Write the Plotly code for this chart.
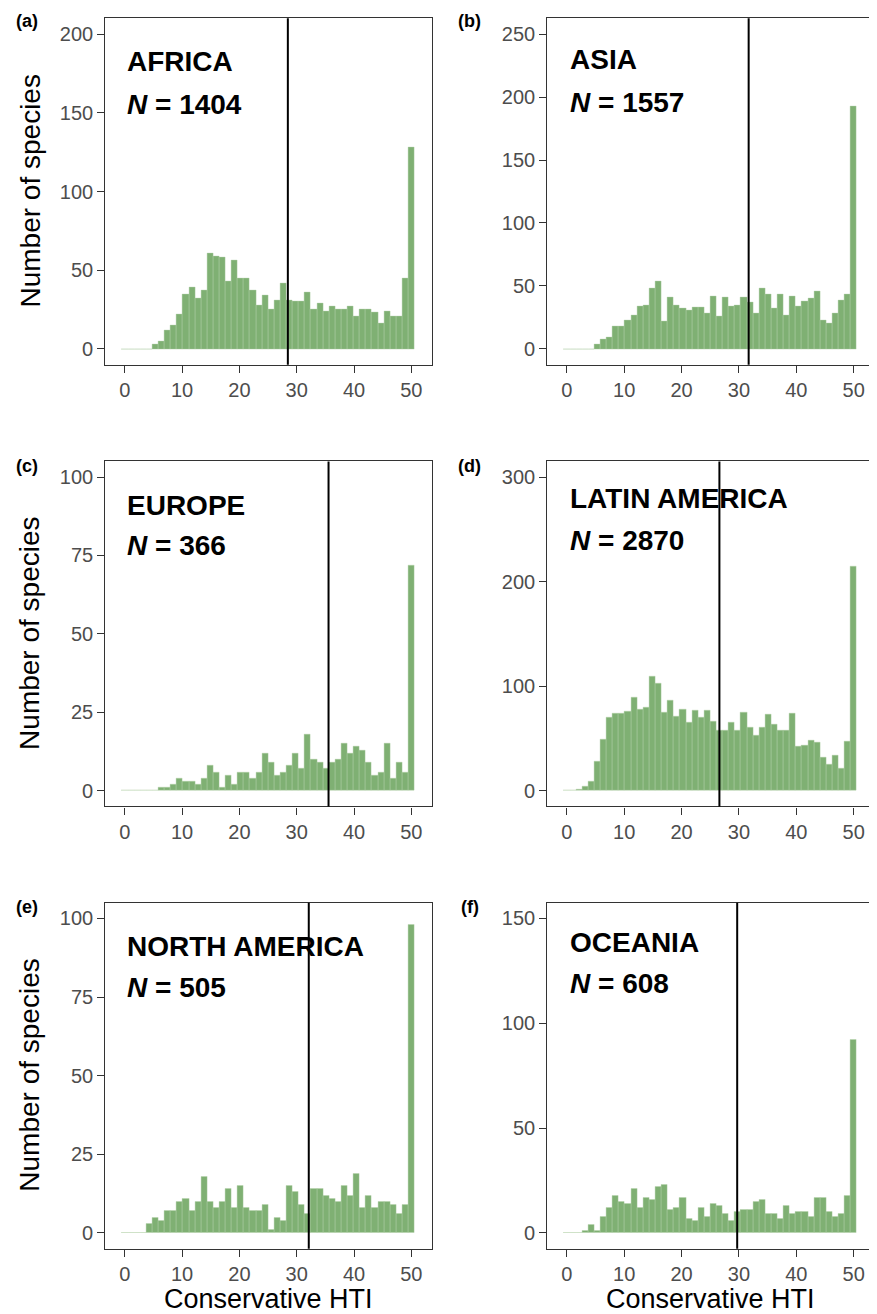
import numpy as np
import plotly.graph_objects as go

# page body has an 8px default margin; lay the figure out in window pixels and shift
PAGE_MARGIN = 8
WIN_W, WIN_H = 877, 1314
W, H = WIN_W - PAGE_MARGIN, WIN_H - PAGE_MARGIN
N_BINS = 48
BIN_MAX = 50.0

regions = ["AFRICA", "ASIA", "EUROPE", "LATIN AMERICA", "NORTH AMERICA", "OCEANIA"]
panel_letters = ["(a)", "(b)", "(c)", "(d)", "(e)", "(f)"]
n_species = [1404, 1557, 366, 2870, 505, 608]
thresholds = [28.45, 31.7, 35.55, 26.6, 32.1, 29.7]

africa = [0, 0, 0, 0, 0, 3, 5, 12, 15, 22, 35, 39, 32, 37, 61, 59, 58, 43, 56, 45, 45, 37, 28, 34,
          25, 31, 42, 31, 30, 30, 36, 25, 29, 24, 27, 25, 25, 27, 21, 25, 25, 23, 16, 24, 21, 21, 45, 128]
asia = [0, 0, 0, 0, 0, 4, 8, 9, 18, 18, 23, 27, 34, 35, 48, 54, 22, 41, 35, 32, 31, 33, 33, 28,
        42, 26, 41, 34, 35, 41, 37, 28, 48, 43, 32, 43, 27, 42, 34, 38, 40, 46, 23, 20, 28, 39, 43, 193]
europe = [0, 0, 0, 0, 0, 0, 1, 1, 2, 4, 3, 3, 2, 4, 8, 6, 1, 5, 2, 6, 6, 4, 6, 12,
          9, 5, 6, 8, 12, 7, 18, 10, 9, 7, 9, 10, 15, 12, 14, 13, 9, 5, 6, 15, 4, 9, 6, 72]
latin_america = [0, 0, 1, 4, 9, 28, 49, 70, 74, 74, 76, 89, 78, 80, 109, 103, 75, 86, 71, 78, 65, 77, 70, 77,
                 66, 58, 58, 65, 58, 75, 61, 53, 61, 73, 63, 58, 58, 74, 42, 43, 48, 46, 32, 25, 34, 21, 47, 215]
north_america = [0, 0, 0, 0, 3, 5, 4, 7, 7, 10, 11, 7, 10, 18, 10, 8, 10, 14, 8, 15, 8, 7, 7, 9,
                 1, 5, 4, 15, 13, 9, 6, 14, 14, 12, 11, 10, 15, 12, 19, 8, 12, 8, 10, 10, 9, 6, 9, 98]
oceania = [0, 0, 0, 1, 4, 1, 8, 12, 18, 15, 14, 21, 12, 17, 16, 22, 23, 11, 12, 17, 7, 6, 12, 8,
           14, 13, 9, 6, 10, 11, 11, 15, 16, 9, 9, 7, 13, 9, 10, 10, 8, 17, 17, 10, 8, 9, 18, 92]

counts = [africa, asia, europe, latin_america, north_america, oceania]
y_max = [200, 250, 100, 300, 100, 150]
y_dtick = [50, 50, 25, 100, 25, 50]
x_ticks = [0, 10, 20, 30, 40, 50]

bin_width = BIN_MAX / (N_BINS - 1)
centers = np.arange(N_BINS) * bin_width

FONT = "Liberation Sans, Arial, Helvetica, sans-serif"
BAR_COLOR = "#7FB073"

# panel geometry in window pixels
col_x = [(105.3, 432.0), (547.3, 874.3)]
row_y = [(18.3, 364.7), (461.4, 806.4), (902.7, 1248.7)]
name_y = [62, 60, 505, 499, 946, 942]
nline_y = [104, 102, 546, 540, 987, 983]
text_x = [125, 568]
letter_x = [27, 470]
letter_y = [21, 466, 907]


def px(x):
    return (x - PAGE_MARGIN) / W


def py(y):
    return 1 - (y - PAGE_MARGIN) / H


fig = go.Figure()
layout = dict(width=W, height=H, margin=dict(l=0, r=0, t=0, b=0),
              paper_bgcolor="white", plot_bgcolor="white", showlegend=False,
              font=dict(family=FONT), bargap=0)
annotations = []
shapes = []

for i in range(6):
    r, c = divmod(i, 2)
    ax = "" if i == 0 else str(i + 1)
    x0, x1 = col_x[c]
    y0, y1 = row_y[r]
    fig.add_trace(go.Bar(
        x=centers, y=counts[i], width=bin_width,
        marker=dict(color=BAR_COLOR, line=dict(color="rgba(178,210,170,1)", width=0.4)),
        xaxis="x" + ax, yaxis="y" + ax, hoverinfo="x+y"))
    common = dict(showline=True, mirror=True, linecolor="#333333", linewidth=1.2,
                  ticks="outside", ticklen=7, tickwidth=1.2, tickcolor="#333333",
                  showgrid=False, zeroline=False,
                  tickfont=dict(size=20, color="#4d4d4d", family=FONT))
    layout["xaxis" + ax] = dict(common, domain=[px(x0), px(x1)], range=[-3.4, 53.6],
                                tickvals=x_ticks, anchor="y" + ax)
    ym = y_max[i]
    layout["yaxis" + ax] = dict(common, domain=[py(y1), py(y0)],
                                range=[-0.05 * ym, 1.05 * ym],
                                tickvals=list(range(0, ym + 1, y_dtick[i])), anchor="x" + ax)
    shapes.append(dict(type="line", xref="x" + ax, yref="y" + ax + " domain",
                       x0=thresholds[i], x1=thresholds[i], y0=0, y1=1,
                       line=dict(color="black", width=2)))
    annotations.append(dict(text="<b>" + regions[i] + "</b>", xref="paper", yref="paper",
                            x=px(text_x[c]), y=py(name_y[i]), xanchor="left", yanchor="middle",
                            showarrow=False, font=dict(size=28, color="black", family=FONT)))
    annotations.append(dict(text="<b><i>N</i> = " + str(n_species[i]) + "</b>", xref="paper", yref="paper",
                            x=px(text_x[c]), y=py(nline_y[i]), xanchor="left", yanchor="middle",
                            showarrow=False, font=dict(size=28, color="black", family=FONT)))
    annotations.append(dict(text="<b>" + panel_letters[i] + "</b>", xref="paper", yref="paper",
                            x=px(letter_x[c]), y=py(letter_y[r]), xanchor="center", yanchor="middle",
                            showarrow=False, font=dict(size=18, color="black", family=FONT)))

for r in range(3):
    y0, y1 = row_y[r]
    annotations.append(dict(text="Number of species", xref="paper", yref="paper",
                            x=px(30), y=py((y0 + y1) / 2), xanchor="center", yanchor="middle",
                            textangle=-90, showarrow=False,
                            font=dict(size=28, color="black", family=FONT)))
for c in range(2):
    x0, x1 = col_x[c]
    annotations.append(dict(text="Conservative HTI", xref="paper", yref="paper",
                            x=px((x0 + x1) / 2), y=py(1299), xanchor="center", yanchor="middle",
                            showarrow=False, font=dict(size=27, color="black", family=FONT)))

layout["annotations"] = annotations
layout["shapes"] = shapes
fig.update_layout(**layout)
fig.write_html("out.html")
